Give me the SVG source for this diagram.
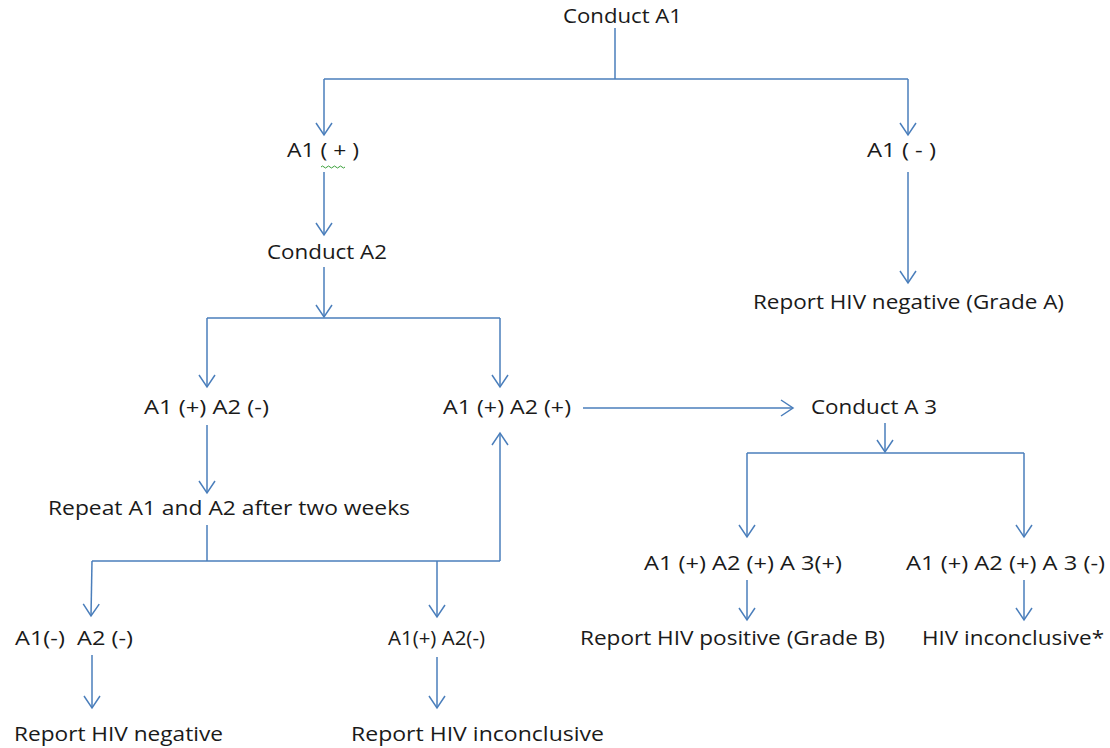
<svg xmlns="http://www.w3.org/2000/svg" width="1110" height="748" viewBox="0 0 1110 748">
<style>
text{font-family:"Open Sans","Liberation Sans",sans-serif;font-size:20px;fill:#1a1a1a}
.c path{fill:none;stroke:#4a7ebb;stroke-width:1.5}
.c .a{marker-end:url(#ah)}
</style>
<defs>
<marker id="ah" viewBox="-14 -10 16 20" refX="0" refY="0" markerWidth="16" markerHeight="20" orient="auto" markerUnits="userSpaceOnUse">
<path d="M-12,-8 L0,0 L-12,8" fill="none" stroke="#4a7ebb" stroke-width="1.5"/>
</marker>
</defs>
<rect width="1110" height="748" fill="#fff"/>
<g class="c" id="connectors">
<path d="M615,28 V79"/>
<path d="M324,79 H908"/>
<path class="a" d="M324,79 V135"/>
<path class="a" d="M908,79 V135"/>
<path class="a" d="M324,172 V235"/>
<path class="a" d="M908,172 V283"/>
<path class="a" d="M324,267 V317"/>
<path d="M207,318 H500"/>
<path class="a" d="M207,318 V387"/>
<path class="a" d="M500,318 V387"/>
<path class="a" d="M207,425 V493"/>
<path d="M207,525 V561"/>
<path d="M92,561 H500"/>
<path class="a" d="M500,561 V433"/>
<path class="a" d="M92,561 L91,616"/>
<path class="a" d="M437,561 V617"/>
<path class="a" d="M92,655 V708"/>
<path class="a" d="M437,657 V708"/>
<path class="a" d="M583,408 H793"/>
<path class="a" d="M885,423 V452"/>
<path d="M747,453 H1024"/>
<path class="a" d="M747,453 V537"/>
<path class="a" d="M1024,453 V537"/>
<path class="a" d="M747,580 V620"/>
<path class="a" d="M1024,580 V620"/>
</g>
<g id="n1"><text x="563" y="23" textLength="119" lengthAdjust="spacingAndGlyphs">Conduct A1</text></g>
<g id="n2"><text x="287" y="157" textLength="72" lengthAdjust="spacingAndGlyphs">A1 ( + )</text>
<path d="M321,167 q1.5,-2 3,0 t3,0 t3,0 t3,0 t3,0 t3,0 t3,0 t3,0" fill="none" stroke="#3aa03a" stroke-width="1"/></g>
<g id="n3"><text x="867" y="157" textLength="69" lengthAdjust="spacingAndGlyphs">A1 ( - )</text></g>
<g id="n4"><text x="267" y="259" textLength="120" lengthAdjust="spacingAndGlyphs">Conduct A2</text></g>
<g id="n5"><text x="753" y="309" textLength="311" lengthAdjust="spacingAndGlyphs">Report HIV negative (Grade A)</text></g>
<g id="n6"><text x="144" y="414" textLength="125" lengthAdjust="spacingAndGlyphs">A1 (+) A2 (-)</text></g>
<g id="n7"><text x="443" y="414" textLength="128" lengthAdjust="spacingAndGlyphs">A1 (+) A2 (+)</text></g>
<g id="n8"><text x="811" y="414" textLength="126" lengthAdjust="spacingAndGlyphs">Conduct A 3</text></g>
<g id="n9"><text x="48" y="515" textLength="362" lengthAdjust="spacingAndGlyphs">Repeat A1 and A2 after two weeks</text></g>
<g id="n10"><text x="644" y="570" textLength="198" lengthAdjust="spacingAndGlyphs">A1 (+) A2 (+) A 3(+)</text></g>
<g id="n11"><text x="906" y="570" textLength="199" lengthAdjust="spacingAndGlyphs">A1 (+) A2 (+) A 3 (-)</text></g>
<g id="n12"><text x="15" y="645" textLength="118" lengthAdjust="spacingAndGlyphs" xml:space="preserve">A1(-)  A2 (-)</text></g>
<g id="n13"><text x="388" y="645" textLength="97" lengthAdjust="spacingAndGlyphs">A1(+) A2(-)</text></g>
<g id="n14"><text x="580" y="645" textLength="305" lengthAdjust="spacingAndGlyphs">Report HIV positive (Grade B)</text></g>
<g id="n15"><text x="922" y="645" textLength="182" lengthAdjust="spacingAndGlyphs">HIV inconclusive*</text></g>
<g id="n16"><text x="14" y="741" textLength="209" lengthAdjust="spacingAndGlyphs">Report HIV negative</text></g>
<g id="n17"><text x="351" y="741" textLength="253" lengthAdjust="spacingAndGlyphs">Report HIV inconclusive</text></g>
</svg>
